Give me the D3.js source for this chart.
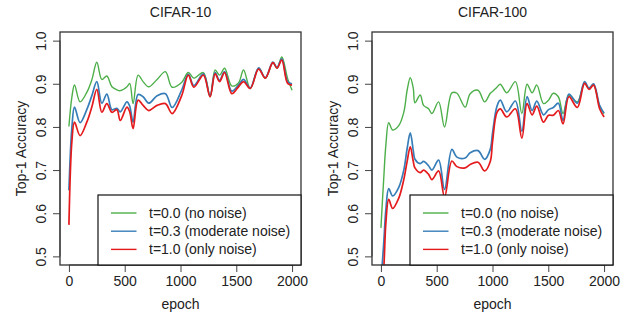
<!DOCTYPE html>
<html>
<head>
<meta charset="utf-8">
<script src="https://cdn.jsdelivr.net/npm/d3@7"></script>
<style>
  body { margin: 0; background: #fff; }
  text { font-family: "Liberation Sans", Arial, sans-serif; fill: #222; }
</style>
</head>
<body>
<script>
// ---- data ----
const seriesNames = ['t=0.0 (no noise)', 't=0.3 (moderate noise)', 't=1.0 (only noise)']
const seriesColors = ['#4daf4a', '#377eb8', '#e41a1c']
const xTicks = [0, 500, 1000, 1500, 2000]
const yTicks = [0.5, 0.6, 0.7, 0.8, 0.9, 1.0]

// CIFAR-10
const c10Epochs = [0, 27, 50, 100, 160, 205, 250, 295, 340, 385, 430, 460, 520, 545, 575, 620, 665, 715, 790, 865, 925,
  1010, 1070, 1120, 1205, 1265, 1310, 1350, 1395, 1460, 1520, 1565, 1625, 1700, 1760, 1828, 1865, 1908, 1960, 2000]
const c10NoNoise = [0.801, 0.870, 0.897, 0.858, 0.880, 0.909, 0.950, 0.910, 0.918, 0.893, 0.886, 0.884, 0.893, 0.901, 0.854, 0.920, 0.905, 0.893, 0.910, 0.928, 0.892,
  0.903, 0.926, 0.913, 0.926, 0.870, 0.932, 0.920, 0.936, 0.895, 0.902, 0.932, 0.889, 0.936, 0.913, 0.949, 0.936, 0.962, 0.912, 0.885]
const c10Moderate = [0.653, 0.800, 0.846, 0.810, 0.840, 0.872, 0.905, 0.855, 0.876, 0.840, 0.843, 0.835, 0.858, 0.848, 0.811, 0.875, 0.870, 0.855, 0.872, 0.877, 0.845,
  0.885, 0.922, 0.896, 0.923, 0.872, 0.926, 0.908, 0.928, 0.883, 0.897, 0.910, 0.890, 0.937, 0.914, 0.950, 0.938, 0.958, 0.905, 0.900]
const c10OnlyNoise = [0.573, 0.768, 0.811, 0.780, 0.811, 0.846, 0.887, 0.834, 0.854, 0.834, 0.840, 0.815, 0.846, 0.835, 0.796, 0.862, 0.850, 0.838, 0.850, 0.854, 0.831,
  0.872, 0.920, 0.892, 0.920, 0.870, 0.923, 0.905, 0.926, 0.877, 0.893, 0.905, 0.889, 0.934, 0.913, 0.949, 0.936, 0.955, 0.901, 0.897]

// CIFAR-100
const c100Epochs = [0, 25, 45, 70, 105, 160, 205, 235, 263, 290, 305, 352, 382, 427, 457, 517, 570, 636, 681, 755, 800, 870, 930, 980,
  1000, 1040, 1070, 1128, 1205, 1263, 1310, 1355, 1397, 1457, 1502, 1545, 1590, 1632, 1685, 1760, 1825, 1865, 1906, 1960, 2000]
const c100NoNoise = [0.566, 0.680, 0.760, 0.810, 0.793, 0.803, 0.834, 0.885, 0.914, 0.890, 0.856, 0.874, 0.850, 0.842, 0.831, 0.858, 0.800, 0.879, 0.878, 0.846, 0.877, 0.885, 0.858, 0.878,
  0.882, 0.892, 0.899, 0.879, 0.905, 0.831, 0.899, 0.879, 0.897, 0.854, 0.862, 0.878, 0.870, 0.831, 0.874, 0.858, 0.901, 0.889, 0.897, 0.848, 0.831]
const c100Moderate = [0.440, 0.530, 0.610, 0.657, 0.640, 0.660, 0.700, 0.750, 0.786, 0.745, 0.725, 0.715, 0.720, 0.710, 0.700, 0.723, 0.655, 0.748, 0.730, 0.728, 0.740, 0.745, 0.725, 0.748,
  0.785, 0.848, 0.862, 0.835, 0.860, 0.790, 0.870, 0.838, 0.860, 0.828, 0.840, 0.845, 0.855, 0.815, 0.876, 0.855, 0.905, 0.890, 0.900, 0.850, 0.832]
const c100OnlyNoise = [0.400, 0.470, 0.580, 0.632, 0.611, 0.635, 0.678, 0.720, 0.754, 0.720, 0.705, 0.694, 0.700, 0.690, 0.678, 0.698, 0.637, 0.721, 0.708, 0.705, 0.713, 0.718, 0.698, 0.720,
  0.765, 0.834, 0.842, 0.823, 0.842, 0.774, 0.854, 0.828, 0.848, 0.811, 0.827, 0.827, 0.838, 0.807, 0.870, 0.845, 0.901, 0.887, 0.897, 0.842, 0.823]

const panels = [
  { title: 'CIFAR-10', left: 60, right: 301, epochs: c10Epochs, series: [c10NoNoise, c10Moderate, c10OnlyNoise] },
  { title: 'CIFAR-100', left: 372, right: 613, epochs: c100Epochs, series: [c100NoNoise, c100Moderate, c100OnlyNoise] }
]

const W = 624, H = 315
const TOP = 32, BOTTOM = 265

const svg = d3.select('body').append('svg')
  .attr('width', W)
  .attr('height', H)

panels.forEach((p, pi) => {
  const x = d3.scaleLinear().domain([-80, 2080]).range([p.left, p.right])
  const y = d3.scaleLinear().domain([0.48, 1.02]).range([BOTTOM, TOP])
  const g = svg.append('g')

  // clip to plot box
  const clipId = 'clip' + pi
  g.append('clipPath').attr('id', clipId)
    .append('rect')
    .attr('x', p.left).attr('y', TOP)
    .attr('width', p.right - p.left).attr('height', BOTTOM - TOP)

  const line = d3.line()
    .x(d => x(d[0]))
    .y(d => y(d[1]))
    .curve(d3.curveCatmullRom.alpha(0.5))

  p.series.forEach((vals, si) => {
    const pts = p.epochs.map((e, i) => [e, vals[i]])
    g.append('path')
      .attr('clip-path', `url(#${clipId})`)
      .attr('d', line(pts))
      .attr('fill', 'none')
      .attr('stroke', seriesColors[si])
      .attr('stroke-width', si === 0 ? 1.4 : 1.7)
      .attr('stroke-linejoin', 'round')
  })

  // axes (R style, detached ticks)
  const xAxis = g.append('g')
    .attr('transform', `translate(0,${BOTTOM})`)
    .call(d3.axisBottom(x).tickValues(xTicks).tickFormat(d3.format('d')).tickSize(7).tickPadding(4).tickSizeOuter(0))
  xAxis.select('.domain')
    .attr('d', `M${x(xTicks[0])},0H${x(xTicks[xTicks.length - 1])}`)
  xAxis.selectAll('line, .domain').attr('stroke', '#444')
  xAxis.selectAll('text')
    .attr('font-size', 14)
    .attr('fill', '#222')
    .attr('font-family', '"Liberation Sans", Arial, sans-serif')

  const yAxis = g.append('g')
    .attr('transform', `translate(${p.left},0)`)
    .call(d3.axisLeft(y).tickValues(yTicks).tickFormat(d3.format('.1f')).tickSize(7).tickSizeOuter(0))
  yAxis.select('.domain')
    .attr('d', `M0,${y(yTicks[0])}V${y(yTicks[yTicks.length - 1])}`)
  yAxis.selectAll('line, .domain').attr('stroke', '#444')
  yAxis.selectAll('text')
    .attr('font-size', 14)
    .attr('fill', '#222')
    .attr('font-family', '"Liberation Sans", Arial, sans-serif')
    .attr('x', null).attr('dy', null)
    .attr('text-anchor', 'middle')
    .attr('transform', 'translate(-19,0) rotate(-90)')
    .attr('dominant-baseline', 'central')

  // plot box
  g.append('rect')
    .attr('x', p.left).attr('y', TOP)
    .attr('width', p.right - p.left).attr('height', BOTTOM - TOP)
    .attr('fill', 'none')
    .attr('stroke', '#333')
    .attr('stroke-width', 1.3)

  // legend, bottom right of the box
  const lg = g.append('g').attr('transform', `translate(${p.left + 38},${BOTTOM - 70})`)
  lg.append('rect')
    .attr('width', p.right - p.left - 38).attr('height', 70)
    .attr('fill', '#fff')
    .attr('stroke', '#111')
    .attr('stroke-width', 1.2)
  seriesNames.forEach((name, si) => {
    const ly = 18 + si * 18.2
    lg.append('line')
      .attr('x1', 13).attr('x2', 38.5)
      .attr('y1', ly).attr('y2', ly)
      .attr('stroke', seriesColors[si])
      .attr('stroke-width', 1.4)
    lg.append('text')
      .attr('x', 51).attr('y', ly)
      .attr('dominant-baseline', 'central')
      .attr('font-size', 14)
      .text(name)
  })

  // labels
  g.append('text')
    .attr('x', (p.left + p.right) / 2).attr('y', 17)
    .attr('text-anchor', 'middle')
    .attr('font-size', 14)
    .text(p.title)
  g.append('text')
    .attr('x', (p.left + p.right) / 2).attr('y', 309)
    .attr('text-anchor', 'middle')
    .attr('font-size', 14)
    .text('epoch')
  g.append('text')
    .attr('transform', `translate(${p.left - 39},${(TOP + BOTTOM) / 2}) rotate(-90)`)
    .attr('text-anchor', 'middle')
    .attr('dominant-baseline', 'central')
    .attr('font-size', 14)
    .text('Top-1 Accuracy')
})
</script>
</body>
</html>
